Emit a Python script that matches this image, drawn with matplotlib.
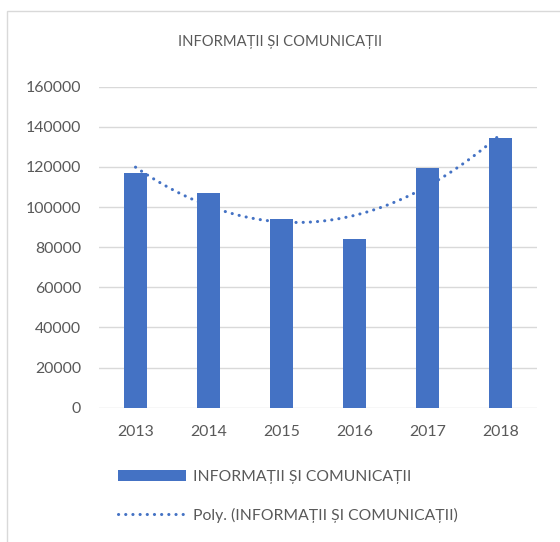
import numpy as np
import matplotlib
matplotlib.use("Agg")
import matplotlib.pyplot as plt
from matplotlib.patches import Patch, Rectangle
from matplotlib.lines import Line2D

years = ["2013", "2014", "2015", "2016", "2017", "2018"]
values = [116850, 106850, 94200, 84000, 119500, 134200]
series_name = "INFORMAȚII ȘI COMUNICAȚII"
trend_name = "Poly. (INFORMAȚII ȘI COMUNICAȚII)"
yticks = [0, 20000, 40000, 60000, 80000, 100000, 120000, 140000, 160000]

plt.rcParams['font.family'] = ['Lato', 'DejaVu Sans']
W, H = 560, 542
fig = plt.figure(figsize=(W / 100, H / 100), dpi=100)
txt = "#595959"
bar_color = "#4472C4"
grid_color = "#D9D9D9"

# outer chart frame
fig.patches.append(Rectangle((7 / W, -0.05), 1.1, 1 - 11 / H + 0.05, transform=fig.transFigure,
                             fill=False, edgecolor=grid_color, linewidth=1.0))

ax = fig.add_axes([99 / W, 134.3 / H, 438 / W, 321 / H])
x = np.arange(len(years))
ax.bar(x, values, width=0.316, color=bar_color, zorder=3)

# second order polynomial trendline (Excel "Poly.")
coef = np.polyfit(x, values, 2)
xs = np.linspace(x[0], x[-1], 200)
ax.plot(xs, np.polyval(coef, xs), color=bar_color, linewidth=2.2,
        linestyle=(0, (0.05, 2.3)), dash_capstyle='round', zorder=4)

ax.set_xlim(-0.5, len(years) - 0.5)
ax.set_ylim(0, 160000)
ax.set_yticks(yticks)
ax.set_yticklabels([str(v) for v in yticks])
ax.set_xticks(x)
ax.set_xticklabels(years)
ax.tick_params(axis='both', length=0, colors=txt, labelsize=11.4)
ax.tick_params(axis='y', pad=13)
ax.tick_params(axis='x', pad=12.5)
for s in ax.spines.values():
    s.set_visible(False)
ax.grid(axis='y', color=grid_color, linewidth=1.0, zorder=0)
ax.set_axisbelow(True)

fig.text(280 / W, 1 - 46 / H, series_name, ha='center', va='baseline',
         color=txt, fontsize=10.6)

handles = [Patch(facecolor=bar_color, edgecolor='none'),
           Line2D([0], [0], color=bar_color, linewidth=2.2, linestyle=(0, (0.05, 2.3)),
                  dash_capstyle='round')]
leg = fig.legend(handles, [series_name, trend_name], loc='upper left',
                 bbox_to_anchor=(117.7 / W, 1 - 470 / H), frameon=False, fontsize=11.3,
                 handlelength=4.35, handleheight=0.7, handletextpad=0.45, labelspacing=1.5,
                 borderpad=0, borderaxespad=0, labelcolor=txt)

fig.savefig("out.png", dpi=100)
